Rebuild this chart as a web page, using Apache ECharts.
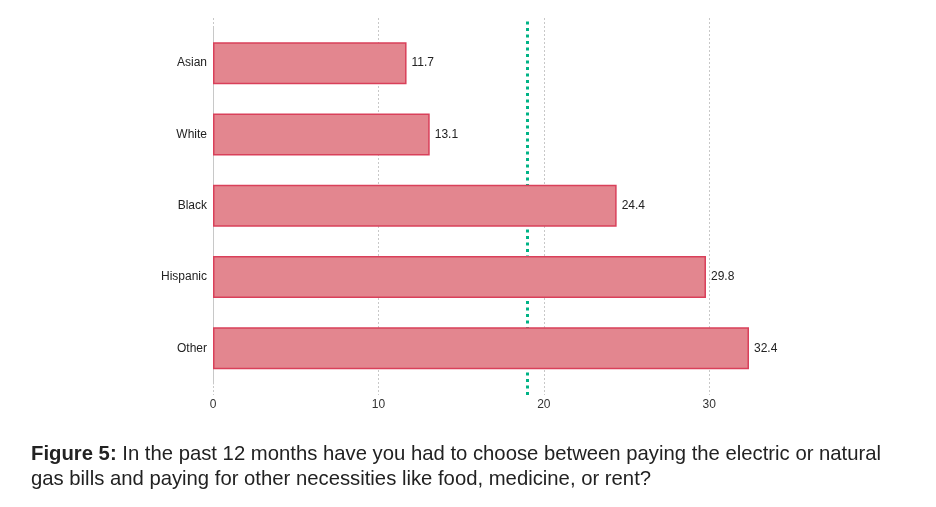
<!DOCTYPE html>
<html><head><meta charset="utf-8">
<script src="https://cdn.jsdelivr.net/npm/echarts@6/dist/echarts.min.js"></script>
<style>html,body{margin:0;padding:0;background:#fff}#c{width:936px;height:507px}</style>
</head><body><div id="c"></div>
<script>
const categories = ['Asian', 'White', 'Black', 'Hispanic', 'Other'];
const values = [11.7, 13.1, 24.4, 29.8, 32.4];
const referenceValue = 19.0;
const xTicks = [0, 10, 20, 30];
const captionBold = 'Figure 5:';
const captionLine1 = ' In the past 12 months have you had to choose between paying the electric or natural';
const captionLine2 = 'gas bills and paying for other necessities like food, medicine, or rent?';

const chart = echarts.init(document.getElementById('c'));
const font = '"Liberation Sans", Arial, sans-serif';
chart.setOption({
  animation: false,
  grid: [
    { left: 213, width: 579, top: 18, height: 377 },
    { left: 213, width: 579, top: 27.5, height: 356.5 }
  ],
  xAxis: [
    { gridIndex: 0, type: 'value', min: 0, max: 35, interval: 10,
      axisLine: { show: false }, axisTick: { show: false },
      axisLabel: { showMaxLabel: false, margin: 4, color: '#333', fontFamily: font, fontSize: 12,
        formatter: v => xTicks.includes(v) ? String(v) : '' },
      splitLine: { show: true, showMaxLine: false, lineStyle: { color: '#c8c8c8', type: [2, 2], width: 1 } } },
    { gridIndex: 1, type: 'value', min: 0, max: 35, interval: 10, show: false }
  ],
  yAxis: [
    { gridIndex: 0, type: 'value', min: 0, max: 1, show: false },
    { gridIndex: 1, type: 'category', data: categories, inverse: true,
      axisLine: { show: true, lineStyle: { color: '#c8c8c8' } }, axisTick: { show: false },
      axisLabel: { color: '#222', fontFamily: font, fontSize: 12, margin: 6 } }
  ],
  series: [
    { type: 'line', xAxisIndex: 0, yAxisIndex: 0, data: [], silent: true, z: 1,
      markLine: { symbol: 'none', silent: true, z: 1, label: { show: false },
        lineStyle: { color: '#00b386', width: 3, type: [3, 3.5] },
        data: [{ xAxis: referenceValue }] } },
    { type: 'bar', xAxisIndex: 1, yAxisIndex: 1, data: values, barWidth: 42, z: 5,
      itemStyle: { color: '#e3868f', borderColor: '#d9405a', borderWidth: 1.5 },
      label: { show: true, position: 'right', distance: 5, color: '#222', fontFamily: font, fontSize: 12,
        formatter: p => p.value.toFixed(1) } }
  ],
  graphic: [{
    type: 'text', left: 31, top: 444,
    style: {
      text: '{b|' + captionBold + '}{n|' + captionLine1 + '}\n{n|' + captionLine2 + '}',
      rich: {
        b: { fontFamily: font, fontSize: 20.3, fontWeight: 'bold', fill: '#222', lineHeight: 25 },
        n: { fontFamily: font, fontSize: 20.3, fill: '#222', lineHeight: 25 }
      }
    }
  }]
});
</script></body></html>
